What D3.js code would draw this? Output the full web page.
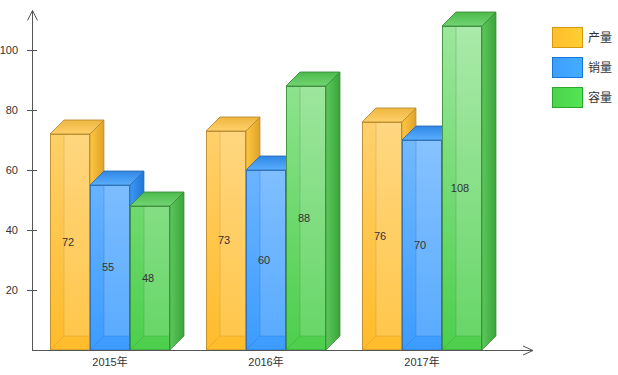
<!DOCTYPE html>
<html>
<head>
<meta charset="utf-8">
<script src="https://d3js.org/d3.v7.min.js"></script>
<style>
  body { margin: 0; background: #fff; }
  svg { display: block; font-family: "Liberation Sans", Arial, "Noto Sans CJK SC", sans-serif; }
</style>
</head>
<body>
<script>
// data
var years = ["2015年", "2016年", "2017年"];
var seriesNames = ["产量", "销量", "容量"];
var output = [72, 73, 76];
var sales = [55, 60, 70];
var capacity = [48, 88, 108];
var yTicks = [20, 40, 60, 80, 100];

var width = 618, height = 375;
var depth = 14;

var svg = d3.select("body").append("svg")
    .attr("width", width)
    .attr("height", height);

// scales
var x0 = d3.scaleBand().domain(years).range([32, 500]);
var x1 = d3.scaleBand().domain(seriesNames).range([18, 138]);
var y = d3.scaleLinear().domain([0, 100]).range([350, 50]);

// colours per series
var pal = {
  "产量": { top: "#FFDA8C", bot: "#FFBC2A", side1: "#FFC63F", side2: "#DDA22C", cap1: "#EDB63F", cap2: "#FFD06A", edge: "#B58A2E", leg: "#FFBD2D", legEdge: "#D39A0E" },
  "销量": { top: "#92C9FF", bot: "#3C9CFF", side1: "#3D98F5", side2: "#1F77D8", cap1: "#2F86E4", cap2: "#5AAEFF", edge: "#2C6DB3", leg: "#3D9EFF", legEdge: "#1874DA" },
  "容量": { top: "#9EE79E", bot: "#4CCF4C", side1: "#5CC95C", side2: "#3AA33A", cap1: "#4CB94C", cap2: "#72D572", edge: "#3A8A3A", leg: "#4CD24C", legEdge: "#2BA52B" }
};

var defs = svg.append("defs");
seriesNames.forEach(function(s, i) {
  var c = pal[s];
  var g = defs.append("linearGradient").attr("id", "front" + i)
      .attr("x1", 0).attr("y1", 0).attr("x2", 0).attr("y2", 1)
      .attr("gradientUnits", "userSpaceOnUse")
      .attr("y1", 20).attr("y2", 350);
  g.append("stop").attr("offset", 0).attr("stop-color", c.top);
  g.append("stop").attr("offset", 1).attr("stop-color", c.bot);
  var sd = defs.append("linearGradient").attr("id", "side" + i)
      .attr("x1", 0).attr("y1", 0).attr("x2", 1).attr("y2", 0);
  sd.append("stop").attr("offset", 0).attr("stop-color", c.side1);
  sd.append("stop").attr("offset", 1).attr("stop-color", c.side2);
  var tp = defs.append("linearGradient").attr("id", "cap" + i)
      .attr("x1", 0).attr("y1", 0).attr("x2", 0).attr("y2", 1);
  tp.append("stop").attr("offset", 0).attr("stop-color", c.cap1);
  tp.append("stop").attr("offset", 1).attr("stop-color", c.cap2);
  var lg = defs.append("linearGradient").attr("id", "leg" + i)
      .attr("x1", 0).attr("y1", 0).attr("x2", 1).attr("y2", 0);
  lg.append("stop").attr("offset", 0).attr("stop-color", c.leg);
  lg.append("stop").attr("offset", 1).attr("stop-color", d3.color(c.leg).brighter(0.25));
});

// flatten
var seriesValues = [output, sales, capacity];
var bars = [];
years.forEach(function(yr, i) {
  seriesNames.forEach(function(s, j) {
    bars.push({ year: yr, series: s, si: j, value: seriesValues[j][i] });
  });
});

var base = y(0);

var barG = svg.selectAll(".bar")
    .data(bars)
  .enter().append("g")
    .attr("class", "bar");

barG.each(function(d) {
  var g = d3.select(this);
  var c = pal[d.series];
  var xl = x0(d.year) + x1(d.series);
  var xr = xl + x1.bandwidth();
  var yt = y(d.value);

  // front face
  g.append("rect")
      .attr("x", xl).attr("y", yt)
      .attr("width", xr - xl).attr("height", base - yt)
      .attr("fill", "url(#front" + d.si + ")");
  // back face seen through
  g.append("rect")
      .attr("x", xl + depth).attr("y", yt)
      .attr("width", xr - xl - depth).attr("height", base - depth - yt)
      .attr("fill", "#fff").attr("fill-opacity", 0.14);
  g.append("path")
      .attr("d", "M" + (xl + depth) + "," + yt + "V" + (base - depth) + "H" + xr +
                 "M" + xl + "," + base + "L" + (xl + depth) + "," + (base - depth))
      .attr("fill", "none").attr("stroke", c.edge).attr("stroke-opacity", 0.3);
  g.append("rect")
      .attr("x", xl + 0.5).attr("y", yt + 0.5)
      .attr("width", xr - xl - 1).attr("height", base - yt - 0.5)
      .attr("fill", "none").attr("stroke", c.edge).attr("stroke-opacity", 0.85);
  // side face
  g.append("path")
      .attr("d", "M" + xr + "," + yt + "L" + (xr + depth) + "," + (yt - depth) +
                 "V" + (base - depth) + "L" + xr + "," + base + "Z")
      .attr("fill", "url(#side" + d.si + ")")
      .attr("stroke", c.edge).attr("stroke-opacity", 0.7);
  // top face
  g.append("path")
      .attr("d", "M" + xl + "," + yt + "L" + (xl + depth) + "," + (yt - depth) +
                 "H" + (xr + depth) + "L" + xr + "," + yt + "Z")
      .attr("fill", "url(#cap" + d.si + ")")
      .attr("stroke", c.edge).attr("stroke-opacity", 0.85);
  // value label
  g.append("text")
      .attr("x", xl + x1.bandwidth() / 2 - 2)
      .attr("y", (yt + base) / 2)
      .attr("dy", "0.35em")
      .attr("text-anchor", "middle")
      .style("font-size", "11px")
      .style("fill", "#333")
      .text(d.value);
});

// y axis
var yAxis = d3.axisLeft(y).tickValues(yTicks).tickSize(5).tickPadding(9);
var gy = svg.append("g")
    .attr("transform", "translate(32,0)")
    .call(yAxis);
gy.select(".domain").remove();
gy.selectAll(".tick line").attr("x1", 5).attr("x2", -5).attr("stroke", "#555");
gy.selectAll(".tick text").style("font-size", "11px").style("fill", "#333")
    .style("font-family", "Liberation Sans, Arial, sans-serif");

// x axis
var xAxis = d3.axisBottom(x0).tickSize(0).tickPadding(8);
var gx = svg.append("g")
    .attr("transform", "translate(0," + base + ")")
    .call(xAxis);
gx.select(".domain").remove();
gx.selectAll(".tick text").style("font-size", "11px").style("fill", "#333")
    .style("font-family", "Liberation Sans, Arial, Noto Sans CJK SC, sans-serif");

// axis lines with arrows
svg.append("path")
    .attr("d", "M32.5,350.5V10.5M27.5,20.5L32.5,10.5L37.5,20.5")
    .attr("fill", "none").attr("stroke", "#555");
svg.append("path")
    .attr("d", "M32,350.5H533M523,346L533,350.5L523,355")
    .attr("fill", "none").attr("stroke", "#555");

// legend
var legend = svg.selectAll(".legend")
    .data(seriesNames)
  .enter().append("g")
    .attr("class", "legend")
    .attr("transform", function(d, i) { return "translate(552," + (27 + i * 30) + ")"; });

legend.append("rect")
    .attr("x", 0.5).attr("y", 0.5)
    .attr("width", 30).attr("height", 20)
    .attr("fill", function(d, i) { return "url(#leg" + i + ")"; })
    .attr("stroke", function(d) { return pal[d].legEdge; });

legend.append("text")
    .attr("x", 36)
    .attr("y", 11)
    .attr("dy", "0.35em")
    .style("font-size", "12px")
    .style("fill", "#333")
    .style("font-family", "Noto Sans CJK SC, sans-serif")
    .text(function(d) { return d; });
</script>
</body>
</html>
